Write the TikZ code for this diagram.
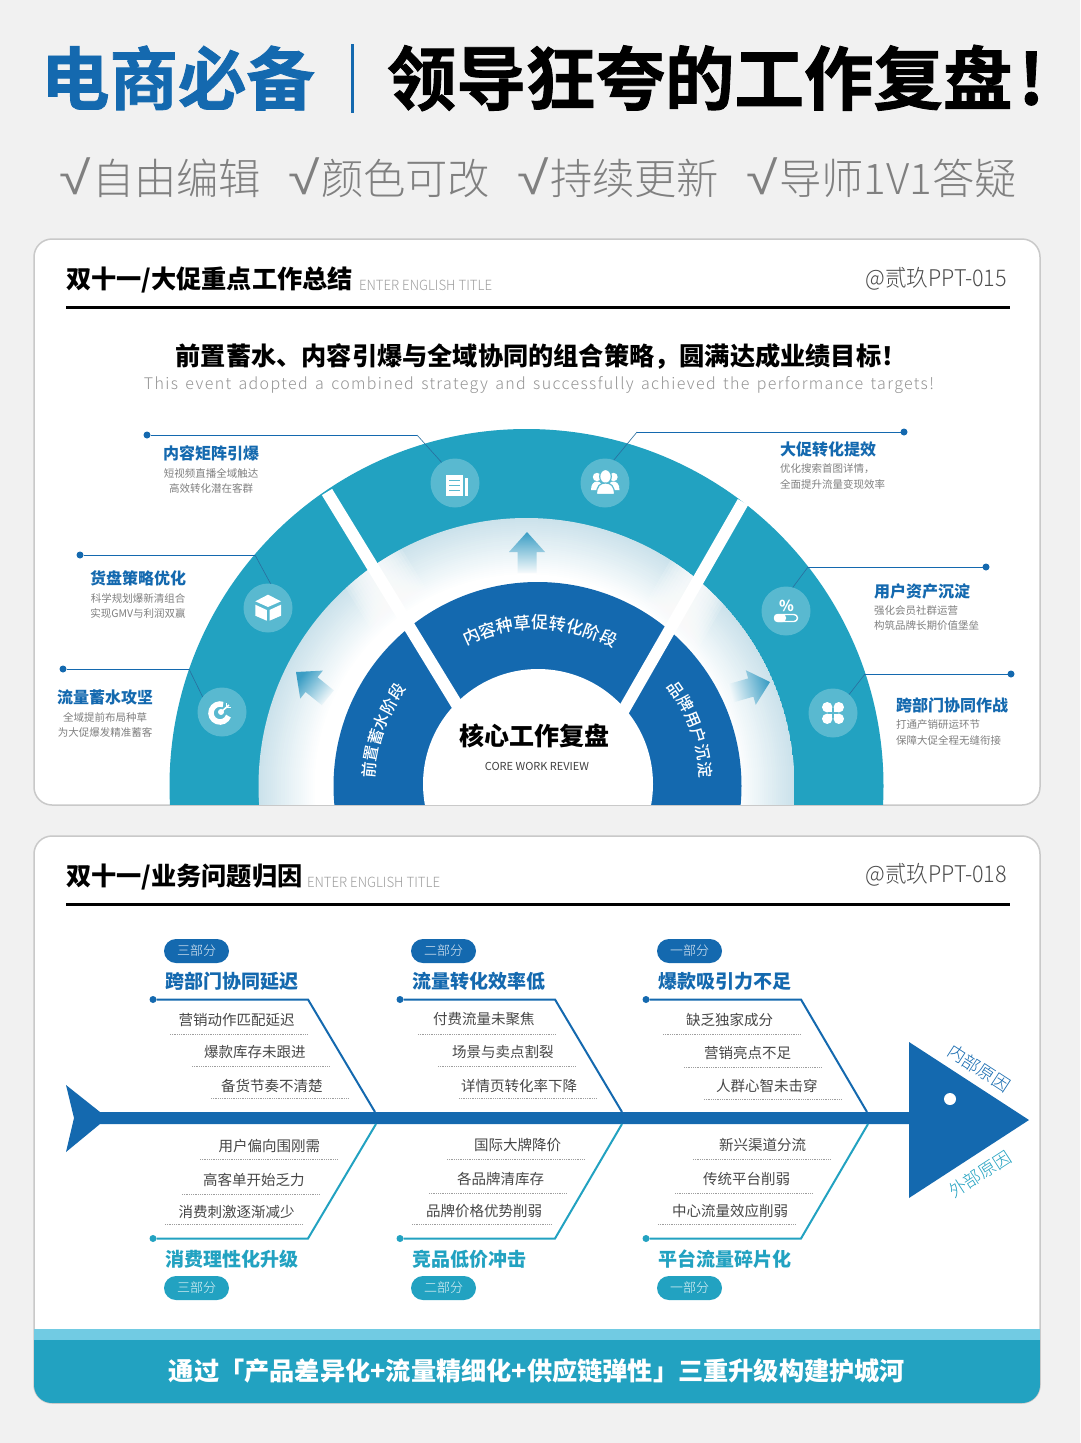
\documentclass[tikz,border=0pt]{standalone}
\usepackage{fontspec}
\usepackage{graphicx}
\setmainfont{Noto Sans CJK SC}
\newfontfamily\lightcjk{Noto Sans CJK SC Light}
\newfontfamily\mediumcjk{Noto Sans CJK SC Medium}
\newfontfamily\heavycjk[FakeBold=1.2]{Noto Sans CJK SC Bold}
\newfontfamily\spacedcjk[LetterSpace=8.5,WordSpace=1.5]{Noto Sans CJK SC Light}
\newfontfamily\tickfont{Liberation Sans}
\usetikzlibrary{decorations.text}
\definecolor{pagegray}{HTML}{F1F1F1}
\definecolor{cardline}{HTML}{C9C9C9}
\definecolor{deepblue}{HTML}{1469AF}
\definecolor{teal}{HTML}{22A2C1}
\definecolor{paleteal}{HTML}{71CBE3}
\definecolor{iconteal}{HTML}{59B9D0}
\definecolor{ringpale}{HTML}{CBE2EB}
\definecolor{arrowteal}{HTML}{3A9DC4}
\definecolor{leaddark}{HTML}{2A6E9E}
\def\fsz#1{\fontsize{#1}{#1}\selectfont}
\def\rcx{526.5}
\def\rcy{786}
\def\bcx{537.5}

\begin{document}
\begin{tikzpicture}[
    x=1pt,y=-1pt,
    inner sep=0pt,outer sep=0pt,
    card/.style={draw=cardline,line width=1.5pt,fill=white,rounded corners=18pt},
    cardtitle/.style={anchor=west,font=\bfseries\fsz{25.2}},
    faint/.style={anchor=west,font=\lightcjk\fsz{14},text=black!38},
    tagcode/.style={anchor=east,font=\lightcjk\fsz{23},text=black!70},
    headrule/.style={line width=3pt},
    iconbase/.style={circle,fill=iconteal,minimum size=49pt},
    enddot/.style={circle,minimum size=7pt,fill=#1},
    leader/.style={draw=deepblue,line width=1pt},
    sublabel/.style={font=\fsz{10.5},text=black!50},
    blocklabel/.style={font=\bfseries\fsz{16},text=deepblue},
    bone/.style={line width=2pt,draw=#1},
    pill/.style={rounded corners=12pt,fill=#1,minimum width=65pt,minimum height=24pt,text=white!90!#1,font=\lightcjk\fsz{13}},
    causehead/.style={anchor=west,font=\bfseries\fsz{19},text=#1},
    causeitem/.style={anchor=west,yshift=-.7pt,font=\fsz{14.5},text=black!72},
    dotrule/.style={densely dotted,line width=.8pt,draw=black!38},
    ringtext/.style={decorate,decoration={text along path,text align={fit to path},text={#1}}},
    flowarrow/.style={top color=arrowteal,bottom color=white!85!ringpale}
  ]

  \fill[pagegray] (0,0) rectangle (1080,1443);
  \useasboundingbox (0,0) rectangle (1080,1443);

  \node[anchor=west,font=\heavycjk\fsz{68.5},text=deepblue] (brand) at (41,78) {电商必备};
  \draw[deepblue,line width=3pt] (352,44) -- (352,113);
  \node[anchor=west,font=\heavycjk\fsz{69.5},text=black] (slogan) at (387,78) {领导狂夸的工作复盘\hspace{6pt}!};

  \foreach \xa/\txt in {59/自由编辑,288/颜色可改,517/持续更新,746/导师1V1答疑}
    \node[anchor=west,font=\lightcjk\fsz{42.3},text=black!50] at (\xa,178) {\makebox[33pt][l]{\tickfont\scalebox{1.35}[1.1]{√}}\txt};

  \draw[card] (34,239) rectangle (1040,805);
  \node[cardtitle] (titlea) at (66,280) {双十一/大促重点工作总结};
  \node[faint] (enga) at (359,285) {\scalebox{.945}[1]{ENTER ENGLISH TITLE}};
  \node[tagcode] (codea) at (1007,279) {\scalebox{.94}[1]{@贰玖PPT-015}};
  \draw[headrule] (66,307) -- (1010,307);
  \node[font=\bfseries\fsz{25.2}] (goal) at (541,356) {前置蓄水、内容引爆与全域协同的组合策略，圆满达成业绩目标！};
  \node[font=\spacedcjk\fsz{16},text=black!42] (goalen) at (539,385) {This event adopted a combined strategy and successfully achieved the performance targets!};

  \begin{scope}
    \clip (35,239) rectangle (1039,804.5);
    \fill[teal] (\rcx,\rcy) circle (357);
    \begin{scope}
      \clip (\rcx,\rcy) circle (268);
      \foreach \r in {268,266,...,206}{
        \pgfmathtruncatemacro{\mix}{max(0,100*(\r-212)/56)}
        \fill[ringpale!\mix!white] (\rcx,\rcy) circle (\r);
      }
      \foreach \w in {68,62,...,20}{
        \draw[white,opacity=.16,line width=\w pt] (327,492) -- (462,713);
        \draw[white,opacity=.16,line width=\w pt] (743,502) -- (618,720);
      }
    \end{scope}
    \fill[deepblue] (\bcx,\rcy) circle (204);
    \draw[white,line width=12pt] (327,492) -- (462,713);
    \draw[white,line width=12pt] (743,502) -- (618,720);
    \fill[white] (538,784) circle (115);
  \end{scope}

  \foreach \tipx/\tipy/\turn/\tone in {527/532/0/0,296/672/51/51,770/682/-74/-74}
    \shade[flowarrow,shading angle=\tone,shift={(\tipx,\tipy)},rotate=\turn]
      (0,0) -- (18,20) -- (9.5,20) -- (9.5,41) -- (-9.5,41) -- (-9.5,20) -- (-18,20) -- cycle;

  \path[ringtext={|\mediumcjk\fsz{17}\color{white}|内容种草促转化阶段}] (\bcx,\rcy) ++(243:157) arc[start angle=243,end angle=296,radius=157];
  \path[ringtext={|\mediumcjk\fsz{16}\color{white}|前置蓄水阶段}] (\bcx,\rcy) ++(182.5:163) arc[start angle=182.5,end angle=216.7,radius=163];
  \path[ringtext={|\mediumcjk\fsz{16}\color{white}|品牌用户沉淀}] (\bcx,\rcy) ++(322.3:163) arc[start angle=322.3,end angle=357.3,radius=163];

  \node[font=\bfseries\fsz{25}] (core) at (534,736) {核心工作复盘};
  \node[font=\fsz{11},text=black!75] (coreen) at (537,766) {CORE WORK REVIEW};

  \node[iconbase] (iconflow) at (222,712) {};
  \node[iconbase] (iconcube) at (268,608) {};
  \node[iconbase] (icondoc) at (455,483) {};
  \node[iconbase] (iconteam) at (605,483) {};
  \node[iconbase] (iconpct) at (786,611) {};
  \node[iconbase] (iconclover) at (833,713) {};

  \foreach \dotname/\dx/\dy/\bx/\by/\icon/\side in {
      a/63/669/189/669/iconflow/142,
      b/80/555/255/555/iconcube/84,
      c/147/435/417/435/icondoc/123,
      d/904/432/637/432/iconteam/69,
      e/986/567/808/567/iconpct/74,
      f/1011/674/865/674/iconclover/49}{
    \node[enddot=deepblue] (dot\dotname) at (\dx,\dy) {};
    \coordinate (bend\dotname) at (\bx,\by);
    \draw[leader] (dot\dotname) -- (bend\dotname);
    \draw[leaddark,line width=.6pt] (bend\dotname) -- (\icon.\side);
  }

  \fill[white] (445.5,475) rectangle (463,496);
  \draw[iconteal,line width=1.7pt] (449,480.5) -- (459.5,480.5) (449,485.5) -- (459.5,485.5) (449,490.5) -- (459.5,490.5);
  \fill[white] (465,478) rectangle (468,496);

  \foreach \sx in {597,613.5}{
    \fill[white] (\sx,477) circle (4.2);
    \fill[white] (\sx-6,490) .. controls (\sx-6,484) and (\sx-3,481.5) .. (\sx,481.5) .. controls (\sx+3,481.5) and (\sx+6,484) .. (\sx+6,490) -- cycle;
  }
  \draw[iconteal,fill=white,line width=1.2pt] (605.5,476.5) ellipse (5.8 and 7);
  \draw[iconteal,fill=white,line width=1.2pt] (596.5,494.5) .. controls (596.5,486) and (600,483) .. (605.5,483) .. controls (611,483) and (614.5,486) .. (614.5,494.5) -- cycle;

  \fill[white] (268,594.7) -- (281,601.3) -- (268,607) -- (255.3,601.3) -- cycle;
  \fill[white] (255.3,604.7) -- (266.8,610) -- (266.8,620.7) -- (255.3,615.7) -- cycle;
  \fill[white] (281,604.7) -- (269.5,610) -- (269.5,620.7) -- (281,615.7) -- cycle;

  \draw[white,line width=5.5pt] (220,713) ++(-70:9) arc[start angle=-70,end angle=-340,radius=9];
  \fill[white] (221,712) circle (3);
  \draw[white,line width=1.6pt] (221,712) -- (229,705);
  \draw[white,line width=1.8pt] (226.5,703) -- (226.5,707.5) -- (231,707.5);

  \node[text=white,font=\bfseries\fsz{15}] (pctsign) at (786.5,606) {\%};
  \draw[white,line width=1.4pt,rounded corners=3.5pt] (774.5,614.5) rectangle (797.5,621.5);
  \fill[white,rounded corners=3.5pt] (774,614) rectangle (786,622);

  \foreach \ox/\oy in {-1/-1,1/-1,-1/1,1/1}{
    \fill[white] (833+5.8*\ox,713+5.8*\oy) circle (5.2);
    \fill[white] (833+5.8*\ox,713+5.8*\oy) rectangle (833+.8*\ox,713+.8*\oy);
  }

  \foreach \lab/\tx/\ty/\la/\lb in {
      流量蓄水攻坚/105/697/全域提前布局种草/为大促爆发精准蓄客,
      货盘策略优化/138/578/科学规划爆新清组合/实现GMV与利润双赢,
      内容矩阵引爆/211/453/短视频直播全域触达/高效转化潜在客群}{
    \node[blocklabel] at (\tx,\ty) {\lab};
    \node[sublabel] at (\tx,\ty+20) {\la};
    \node[sublabel] at (\tx,\ty+35) {\lb};
  }
  \foreach \lab/\tx/\ty/\la/\lb in {
      大促转化提效/780/449/优化搜索首图详情，/全面提升流量变现效率,
      用户资产沉淀/874/591/强化会员社群运营/构筑品牌长期价值堡垒,
      跨部门协同作战/896/705/打通产销研运环节/保障大促全程无缝衔接}{
    \node[blocklabel,anchor=west] at (\tx,\ty) {\lab};
    \node[sublabel,anchor=west] at (\tx,\ty+20) {\la};
    \node[sublabel,anchor=west] at (\tx,\ty+35) {\lb};
  }

  \draw[card] (34,836) rectangle (1040,1403);
  \begin{scope}
    \clip[rounded corners=18pt] (34,836) rectangle (1040,1403);
    \fill[paleteal] (34,1329) rectangle (1040,1340);
    \fill[teal] (34,1340) rectangle (1040,1403);
  \end{scope}
  \node[cardtitle] (titleb) at (66,877) {双十一/业务问题归因};
  \node[faint] (engb) at (307,882) {\scalebox{.945}[1]{ENTER ENGLISH TITLE}};
  \node[tagcode] (codeb) at (1007,875) {\scalebox{.94}[1]{@贰玖PPT-018}};
  \draw[headrule] (66,904) -- (1010,904);
  \node[font=\bfseries\fsz{25.2},text=white] (footer) at (537,1371) {通过「产品差异化+流量精细化+供应链弹性」三重升级构建护城河};

  \fill[deepblue] (66,1085) -- (100,1112) -- (909,1112) -- (909,1042) -- (1029,1120) -- (909,1198) -- (909,1124) -- (100,1124) -- (66,1152) -- (74,1118) -- cycle;
  \fill[white] (950,1099) circle (6);
  \node[rotate=-33,font=\lightcjk\fsz{17.5},text=deepblue] (inner) at (979,1068) {内部原因};
  \node[rotate=33,font=\lightcjk\fsz{17.5},text=teal] (outer) at (980,1174) {外部原因};

  \foreach \dotname/\dx/\bx/\ex/\part/\head in {
      ua/153/308/375/三部分/跨部门协同延迟,
      ub/400/555/622/二部分/流量转化效率低,
      uc/646/801/867/一部分/爆款吸引力不足}{
    \node[enddot=deepblue] (dot\dotname) at (\dx,999.5) {};
    \coordinate (bend\dotname) at (\bx,999.5);
    \coordinate (end\dotname) at (\ex,1112);
    \draw[bone=deepblue] (dot\dotname) -- (bend\dotname) -- (end\dotname);
    \node[pill=deepblue] (pill\dotname) at (\dx+43.5,951) {\part};
    \node[causehead=deepblue] (head\dotname) at (\dx+12,981) {\head};
  }
  \foreach \dotname/\dx/\bx/\ex/\part/\head in {
      la/153/308/376/三部分/消费理性化升级,
      lb/400/555/622/二部分/竞品低价冲击,
      lc/646/801/868/一部分/平台流量碎片化}{
    \node[enddot=teal] (dot\dotname) at (\dx,1238.5) {};
    \coordinate (bend\dotname) at (\bx,1238.5);
    \coordinate (end\dotname) at (\ex,1124);
    \draw[bone=teal] (dot\dotname) -- (bend\dotname) -- (end\dotname);
    \node[pill=teal] (pill\dotname) at (\dx+43.5,1288) {\part};
    \node[causehead=teal] (head\dotname) at (\dx+12,1259) {\head};
  }

  \foreach \txt/\tx/\ty/\xa/\xb/\ya in {
      营销动作匹配延迟/178.6/1019/170/308/1034,
      爆款库存未跟进/204/1051/192/329/1066,
      备货节奏不清楚/221/1085/211/349/1098,
      付费流量未聚焦/433/1018/418/556/1034,
      场景与卖点割裂/452/1051/438/576/1066,
      详情页转化率下降/461/1085/459/596/1098,
      缺乏独家成分/686/1019/663/801/1034.5,
      营销亮点不足/704/1052/684/822/1067,
      人群心智未击穿/716/1085/704/842/1099,
      用户偏向围刚需/218.6/1145/200/338/1159,
      高客单开始乏力/203/1179/182/320/1194,
      消费刺激逐渐减少/178.6/1211/165/303/1224,
      国际大牌降价/474/1144/447/585/1159,
      各品牌清库存/457/1178.5/429/567/1193,
      品牌价格优势削弱/426/1210.5/412/551/1224,
      新兴渠道分流/719/1144/693/831/1159,
      传统平台削弱/703/1178.5/675/813/1193,
      中心流量效应削弱/672/1210.5/658/796/1224}{
    \node[causeitem] at (\tx,\ty) {\txt};
    \draw[dotrule] (\xa,\ya) -- (\xb,\ya);
  }

\end{tikzpicture}
\end{document}
